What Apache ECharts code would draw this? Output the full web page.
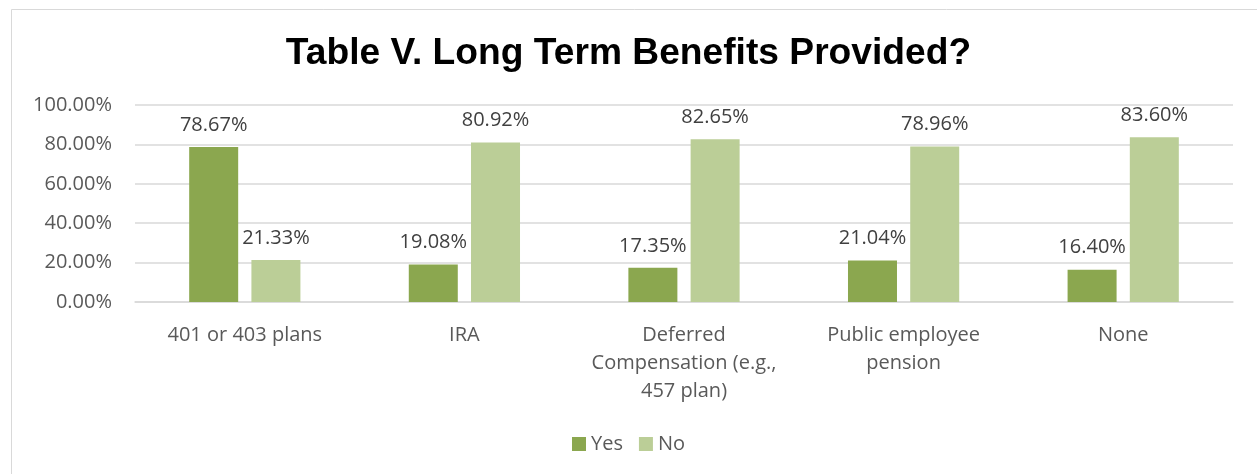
<!DOCTYPE html>
<html>
<head>
<meta charset="utf-8">
<script src="https://cdn.jsdelivr.net/npm/echarts@6/dist/echarts.min.js"></script>
<style>
html,body{margin:0;padding:0;background:#fff;}
#chart{width:1257px;height:474px;}
</style>
</head>
<body>
<div id="chart"></div>
<script>
var titleText = 'Table V. Long Term Benefits Provided?';
var categories = ['401 or 403 plans', 'IRA', 'Deferred\nCompensation (e.g.,\n457 plan)', 'Public employee\npension', 'None'];
var seriesNames = ['Yes', 'No'];
var yesValues = [78.67, 19.08, 17.35, 21.04, 16.40];
var noValues = [21.33, 80.92, 82.65, 78.96, 83.60];
var yTicks = [0, 20, 40, 60, 80, 100];

var chart = echarts.init(document.getElementById('chart'), null, {renderer: 'canvas'});
var labelFont = "'Open Sans', sans-serif";
var option = {
  animation: false,
  backgroundColor: '#fff',
  graphic: [{
    type: 'rect', shape: {x: 11.5, y: 9.5, width: 1260, height: 480},
    style: {fill: 'none', stroke: '#d9d9d9', lineWidth: 1}, silent: true, z: -1
  }],
  title: {
    text: titleText, left: 'center', top: 30,
    textStyle: {fontFamily: "'Liberation Sans', Arial, sans-serif", fontWeight: 'bold', fontSize: 37.2, color: '#000'}
  },
  legend: {
    data: seriesNames, bottom: 15, left: 'center',
    itemWidth: 14, itemHeight: 14, itemGap: 16,
    icon: 'rect',
    textStyle: {fontFamily: labelFont, fontSize: 20, color: '#595959'}
  },
  grid: {left: 135, right: 24, top: 105, bottom: 172, containLabel: false},
  xAxis: {
    type: 'category', data: categories,
    axisLine: {lineStyle: {color: '#d9d9d9', width: 1.5}},
    axisTick: {show: false},
    axisLabel: {fontFamily: labelFont, fontSize: 20, color: '#595959', lineHeight: 28, margin: 19, interval: 0}
  },
  yAxis: {
    type: 'value', min: 0, max: 100, interval: 20,
    axisLine: {show: false}, axisTick: {show: false},
    splitLine: {lineStyle: {color: '#d9d9d9', width: 1.5}},
    axisLabel: {fontFamily: labelFont, fontSize: 20, color: '#595959', margin: 23,
      formatter: function (v) { return yTicks.indexOf(v) >= 0 ? v.toFixed(2) + '%' : ''; }}
  },
  series: [
    {name: seriesNames[0], type: 'bar', data: yesValues, barWidth: 49, barGap: '27%',
     itemStyle: {color: '#8ba74f'},
     label: {show: true, position: 'top', distance: 12, fontFamily: labelFont, fontSize: 20, color: '#404040',
       formatter: function (p) { return p.value.toFixed(2) + '%'; }}},
    {name: seriesNames[1], type: 'bar', data: noValues, barWidth: 49,
     itemStyle: {color: '#bbce97'},
     label: {show: true, position: 'top', distance: 12, fontFamily: labelFont, fontSize: 20, color: '#404040',
       formatter: function (p) { return p.value.toFixed(2) + '%'; }}}
  ]
};
chart.setOption(option);
</script>
</body>
</html>
